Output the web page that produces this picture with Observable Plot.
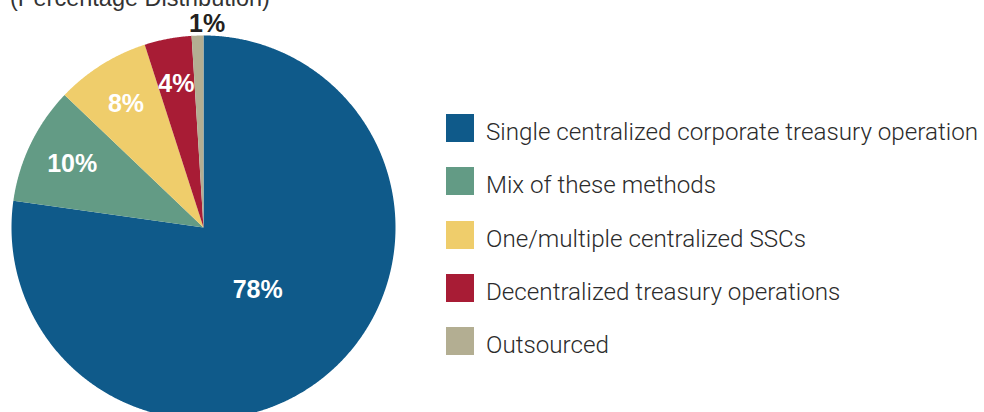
<!DOCTYPE html>
<html>
<head>
<meta charset="utf-8">
<script src="https://cdn.jsdelivr.net/npm/d3@7"></script>
<script src="https://cdn.jsdelivr.net/npm/@observablehq/plot@0.6"></script>
<style>
html, body { margin: 0; padding: 0; background: #fff; overflow: hidden; width: 984px; height: 412px; }
#wrap { position: relative; width: 984px; height: 412px; overflow: hidden; }
#chart { position: absolute; left: 0; top: 0; }
#title { position: absolute; left: 10px; top: -13.5px; font: 23.5px "Liberation Sans", Arial, sans-serif; line-height: 23.5px; color: #333; white-space: nowrap; }
#legend { position: absolute; left: 446px; top: 114px; width: 538px; }
#legend .lg-swatches { font-family: Roboto, "Liberation Sans", sans-serif; font-weight: 300; font-size: 24.2px; color: #2b2b2b; margin: 0; }
#legend .lg-swatch { display: flex; align-items: flex-start; height: 53.25px; padding: 0; margin: 0; }
#legend .lg-swatch svg { margin-right: 12px; flex-shrink: 0; }
#legend .lg-swatch > div { line-height: 28px; position: relative; top: 4px; overflow: visible; white-space: nowrap; }
</style>
</head>
<body>
<div id="wrap">
  <div id="chart"></div>
  <div id="title"></div>
  <div id="legend"></div>
</div>
<script>
const title = "(Percentage Distribution)";
const categories = [
  "Single centralized corporate treasury operation",
  "Mix of these methods",
  "One/multiple centralized SSCs",
  "Decentralized treasury operations",
  "Outsourced"
];
const values = [78, 10, 8, 4, 1];
const valueLabels = ["78%", "10%", "8%", "4%", "1%"];
const colors = ["#0f5a8a", "#639b85", "#efcd6b", "#a81c35", "#b3ae92"];

// Slices: d3.pie angles, clockwise from 12 o'clock
const arcs = d3.pie().sort(null).value(d => d)(values);
const total = d3.sum(values);
const poly = [];
arcs.forEach((a, i) => {
  const n = Math.max(4, Math.ceil((a.endAngle - a.startAngle) / 0.005));
  poly.push({cat: categories[i], x: 0, y: 0});
  for (let k = 0; k <= n; k++) {
    const t = a.startAngle + (a.endAngle - a.startAngle) * k / n;
    poly.push({cat: categories[i], x: Math.sin(t), y: Math.cos(t)});
  }
  poly.push({cat: categories[i], x: 0, y: 0});
});

const labelPts = arcs.map((a, i) => {
  const m = (a.startAngle + a.endAngle) / 2;
  const share = values[i] / total;
  const k = share > 0.5 ? 0.43 : share < 0.02 ? 1.06 : 0.76;
  return {label: valueLabels[i], x: k * Math.sin(m), y: k * Math.cos(m), inside: share >= 0.02};
});

const chart = Plot.plot({
  width: 984,
  height: 412,
  marginLeft: 11,
  marginRight: 589,
  marginTop: 35,
  marginBottom: 0,
  x: {domain: [-1, 1], axis: null},
  y: {domain: [-0.9635, 1], axis: null},
  color: {domain: categories, range: colors},
  style: {background: "transparent", fontFamily: "'Liberation Sans', Arial, sans-serif"},
  marks: [
    Plot.line(poly, {x: "x", y: "y", z: "cat", fill: "cat", stroke: "none"}),
    Plot.text(labelPts.filter(d => d.inside), {x: "x", y: "y", text: "label", fill: "white", fontSize: 25, fontWeight: "bold"}),
    Plot.text(labelPts.filter(d => !d.inside), {x: "x", y: "y", text: "label", fill: "#231f20", fontSize: 25, fontWeight: "bold", dx: 10})
  ]
});
document.getElementById("chart").appendChild(chart);
document.getElementById("title").textContent = title;

const legend = Plot.legend({
  color: {domain: categories, range: colors},
  legend: "swatches",
  columns: 1,
  swatchSize: 28,
  className: "lg"
});
document.getElementById("legend").appendChild(legend);
</script>
</body>
</html>
